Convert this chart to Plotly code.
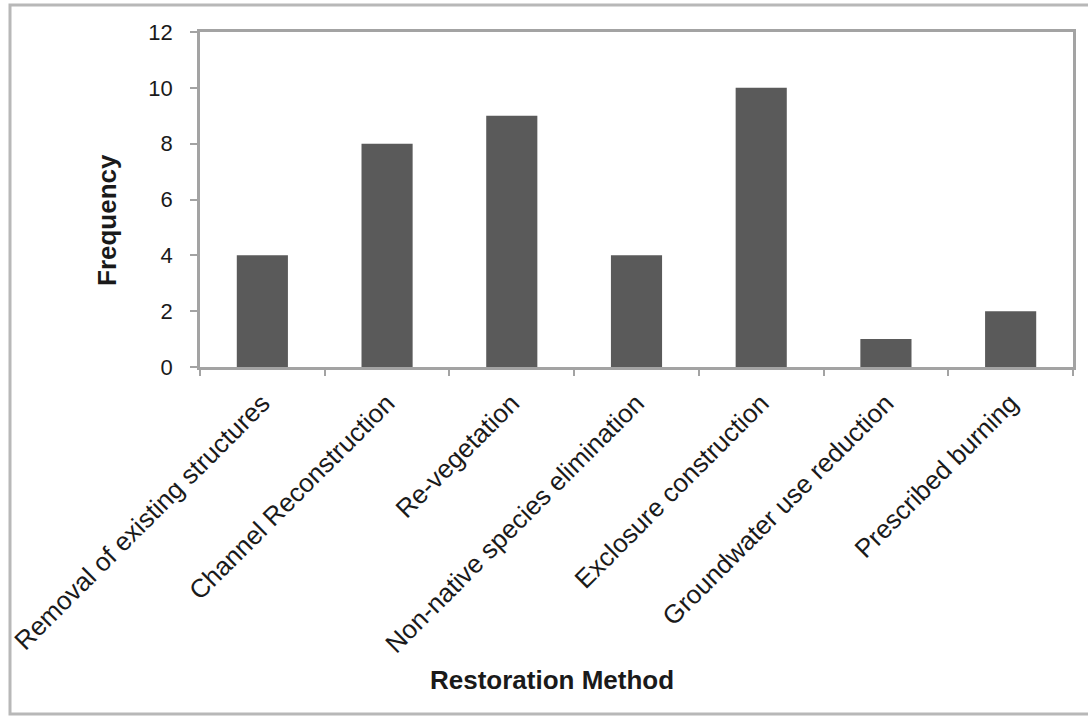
import plotly.graph_objects as go

methods = [
    "Removal of existing structures",
    "Channel Reconstruction",
    "Re-vegetation",
    "Non-native species elimination",
    "Exclosure construction",
    "Groundwater use reduction",
    "Prescribed burning",
]
frequency = [4, 8, 9, 4, 10, 1, 2]
y_ticks = [0, 2, 4, 6, 8, 10, 12]

W, H = 1088, 717
ML, MR, MT, MB = 200, 15, 32, 350
pw, ph = W - ML - MR, H - MT - MB

axis_grey = "#a3a3a3"
family = "Liberation Sans, Arial, sans-serif"
ink = "#1a1a1a"
xfont = dict(family=family, size=26, color=ink)
yfont = dict(family=family, size=22, color=ink)
title_font = dict(family=family, size=26, color=ink)

fig = go.Figure(
    go.Bar(
        x=methods,
        y=frequency,
        marker=dict(color="#5a5a5a", line=dict(width=0)),
    )
)

fig.update_layout(
    width=W,
    height=H,
    margin=dict(l=ML, r=MR, t=MT, b=MB, autoexpand=False),
    paper_bgcolor="white",
    plot_bgcolor="white",
    bargap=0.59,
    showlegend=False,
    font=yfont,
)

fig.update_xaxes(
    type="category",
    automargin=False,
    tickangle=-45,
    tickson="boundaries",
    ticks="outside",
    ticklen=6,
    tickwidth=2,
    tickcolor=axis_grey,
    showline=True,
    linecolor=axis_grey,
    linewidth=2.5,
    mirror=True,
    showgrid=False,
    tickfont=xfont,
    ticklabelstandoff=8,
)

fig.update_yaxes(
    range=[0, 12],
    automargin=False,
    tickvals=y_ticks,
    ticktext=[str(v) for v in y_ticks],
    ticks="outside",
    ticklen=7,
    tickwidth=2,
    tickcolor=axis_grey,
    showline=True,
    linecolor=axis_grey,
    linewidth=2.5,
    mirror=True,
    showgrid=False,
    zeroline=False,
    tickfont=yfont,
    ticklabelstandoff=13,
)

# axis titles
fig.add_annotation(
    text="<b>Frequency</b>", textangle=-90,
    xref="paper", yref="paper",
    x=(90 - ML) / pw, y=(H - MB - 220) / ph,
    showarrow=False, font=title_font,
)
fig.add_annotation(
    text="<b>Restoration Method</b>",
    xref="paper", yref="paper",
    x=(552 - ML) / pw, y=(H - MB - 697) / ph,
    showarrow=False, font=title_font,
)

# outer chart frame
fig.add_shape(
    type="rect", xref="paper", yref="paper",
    x0=(10 - ML) / pw, x1=(1095 - ML) / pw,
    y0=(H - MB - 714) / ph, y1=(H - MB - 5) / ph,
    line=dict(color="#b8b8b8", width=3),
    layer="below",
)

fig.write_html("out.html")
